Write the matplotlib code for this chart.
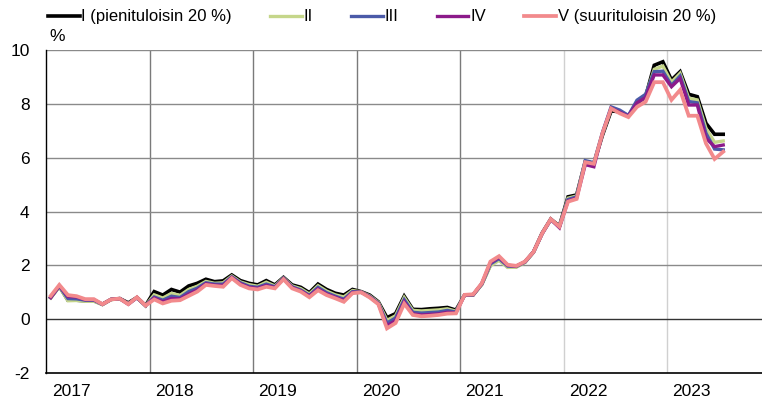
import matplotlib
matplotlib.use("Agg")
import matplotlib.pyplot as plt
import numpy as np

plt.rcParams['font.family'] = ['Liberation Sans', 'DejaVu Sans']

years = ["2017", "2018", "2019", "2020", "2021", "2022", "2023"]

q1 = [0.80, 1.22, 0.70, 0.70, 0.68, 0.68, 0.55, 0.73, 0.76, 0.60, 0.80, 0.50,
      1.02, 0.89, 1.10, 1.00, 1.23, 1.33, 1.48, 1.39, 1.42, 1.64, 1.43, 1.33,
      1.27, 1.43, 1.27, 1.55, 1.27, 1.18, 0.98, 1.30, 1.10, 0.96, 0.89, 1.10,
      1.02, 0.89, 0.64, 0.05, 0.20, 0.85, 0.36, 0.35, 0.38, 0.40, 0.43, 0.33,
      0.89, 0.90, 1.30, 2.02, 2.22, 1.95, 1.95, 2.12, 2.50, 3.20, 3.72, 3.46,
      4.55, 4.62, 5.86, 5.80, 6.85, 7.75, 7.72, 7.56, 8.03, 8.28, 9.45, 9.58,
      8.90, 9.21, 8.37, 8.28, 7.29, 6.88, 6.88]
q2 = [0.78, 1.20, 0.68, 0.69, 0.66, 0.66, 0.53, 0.72, 0.75, 0.57, 0.80, 0.50,
      0.90, 0.78, 0.95, 0.88, 1.10, 1.22, 1.40, 1.33, 1.35, 1.60, 1.38, 1.28,
      1.22, 1.37, 1.23, 1.53, 1.23, 1.13, 0.93, 1.24, 1.04, 0.90, 0.82, 1.06,
      1.01, 0.86, 0.62, -0.05, 0.12, 0.80, 0.32, 0.30, 0.32, 0.34, 0.38, 0.29,
      0.89, 0.90, 1.28, 1.98, 2.18, 1.92, 1.93, 2.10, 2.48, 3.18, 3.70, 3.44,
      4.50, 4.58, 5.86, 5.80, 6.90, 7.82, 7.72, 7.56, 8.05, 8.30, 9.30, 9.42,
      8.82, 9.15, 8.22, 8.16, 7.10, 6.58, 6.63]
q3 = [0.80, 1.22, 0.76, 0.75, 0.70, 0.70, 0.54, 0.73, 0.76, 0.56, 0.79, 0.50,
      0.82, 0.70, 0.85, 0.80, 1.02, 1.15, 1.35, 1.30, 1.30, 1.57, 1.35, 1.22,
      1.18, 1.30, 1.20, 1.52, 1.20, 1.08, 0.88, 1.18, 0.98, 0.85, 0.74, 1.02,
      1.00, 0.84, 0.59, -0.15, 0.04, 0.72, 0.25, 0.22, 0.24, 0.26, 0.32, 0.26,
      0.89, 0.90, 1.30, 2.05, 2.25, 1.97, 1.96, 2.12, 2.49, 3.18, 3.70, 3.44,
      4.45, 4.55, 5.90, 5.82, 6.95, 7.90, 7.78, 7.58, 8.15, 8.37, 9.21, 9.23,
      8.70, 9.05, 8.10, 8.05, 6.92, 6.33, 6.30]
q4 = [0.80, 1.24, 0.84, 0.82, 0.72, 0.72, 0.55, 0.73, 0.76, 0.55, 0.80, 0.50,
      0.78, 0.64, 0.76, 0.75, 0.93, 1.08, 1.31, 1.26, 1.25, 1.55, 1.31, 1.18,
      1.14, 1.25, 1.17, 1.50, 1.17, 1.05, 0.85, 1.12, 0.93, 0.81, 0.69, 0.99,
      1.00, 0.82, 0.57, -0.25, -0.06, 0.64, 0.19, 0.15, 0.17, 0.19, 0.25, 0.23,
      0.89, 0.91, 1.32, 2.10, 2.30, 2.00, 1.97, 2.13, 2.50, 3.18, 3.71, 3.40,
      4.40, 4.50, 5.75, 5.67, 6.92, 7.85, 7.70, 7.55, 8.05, 8.25, 9.09, 9.09,
      8.65, 8.96, 7.97, 7.97, 6.73, 6.42, 6.48]
q5 = [0.86, 1.27, 0.89, 0.85, 0.74, 0.74, 0.55, 0.73, 0.76, 0.55, 0.81, 0.50,
      0.73, 0.58, 0.68, 0.70, 0.86, 1.02, 1.27, 1.23, 1.20, 1.52, 1.27, 1.14,
      1.10, 1.20, 1.14, 1.48, 1.14, 1.02, 0.81, 1.07, 0.89, 0.77, 0.64, 0.96,
      0.99, 0.80, 0.55, -0.35, -0.15, 0.57, 0.15, 0.10, 0.12, 0.15, 0.20, 0.21,
      0.90, 0.92, 1.33, 2.14, 2.34, 2.02, 1.98, 2.14, 2.50, 3.19, 3.72, 3.44,
      4.37, 4.47, 5.84, 5.78, 6.92, 7.84, 7.66, 7.52, 7.90, 8.09, 8.82, 8.82,
      8.16, 8.53, 7.57, 7.57, 6.54, 5.96, 6.23]

labels = ["I (pienituloisin 20 %)", "II", "III", "IV", "V (suurituloisin 20 %)"]
colors = ["#000000", "#c5d68a", "#4b5aa8", "#8c1a8a", "#f28a8c"]
widths = [2.6, 2.4, 2.4, 2.4, 2.7]
series = [q1, q2, q3, q4, q5]

fig = plt.figure(figsize=(7.62, 4.03), dpi=100)
ax = fig.add_axes([0.0609, 0.0752, 0.9391, 0.7995])

n = len(q1)
x = np.arange(n)
for s, lab, c, w in zip(series, labels, colors, widths):
    ax.plot(x, s, color=c, lw=w, label=lab, solid_joinstyle='miter', zorder=3)

ax.set_xlim(-0.5, 82.5)
ax.set_ylim(-2, 10)
ax.set_yticks(np.arange(-2, 11, 2))
ax.set_yticklabels([str(v) for v in range(-2, 11, 2)], fontsize=12.5)
ax.tick_params(axis='y', length=0, pad=12)

# year boundaries
ax.set_xticks([12 * k - 0.5 for k in range(1, len(years))])
ax.set_xticklabels([])
ax.tick_params(axis='x', length=0)
ax.set_xticks([12 * k + 2.35 for k in range(len(years))], minor=True)
ax.set_xticklabels(years, minor=True, fontsize=12.5)
ax.tick_params(axis='x', which='minor', length=0, pad=8)

vcols = ["#7a7a7a"] * 4 + ["#d0d0d0"] * 2
for k, vc in enumerate(vcols, start=1):
    ax.axvline(12 * k - 0.5, color=vc, lw=1.0, zorder=1)
for yv in range(2, 11, 2):
    ax.axhline(yv, color="#8a8a8a", lw=1.0, zorder=1)
ax.axhline(0, color="#333333", lw=1.0, zorder=1)

for sp in ["top", "right"]:
    ax.spines[sp].set_visible(False)
ax.spines["left"].set_color("#000000")
ax.spines["bottom"].set_color("#000000")
ax.spines["left"].set_linewidth(1.0)
ax.spines["bottom"].set_linewidth(1.2)

ax.text(0.004, 1.02, "%", transform=ax.transAxes, fontsize=12.5,
        ha="left", va="bottom")

fig.legend(loc="center left", bbox_to_anchor=(0.063, 0.958), ncol=5,
           frameon=False, fontsize=12, handlelength=1.9, handletextpad=0.1,
           columnspacing=2.3, borderaxespad=0, borderpad=0)

fig.savefig("out.png", dpi=100)
